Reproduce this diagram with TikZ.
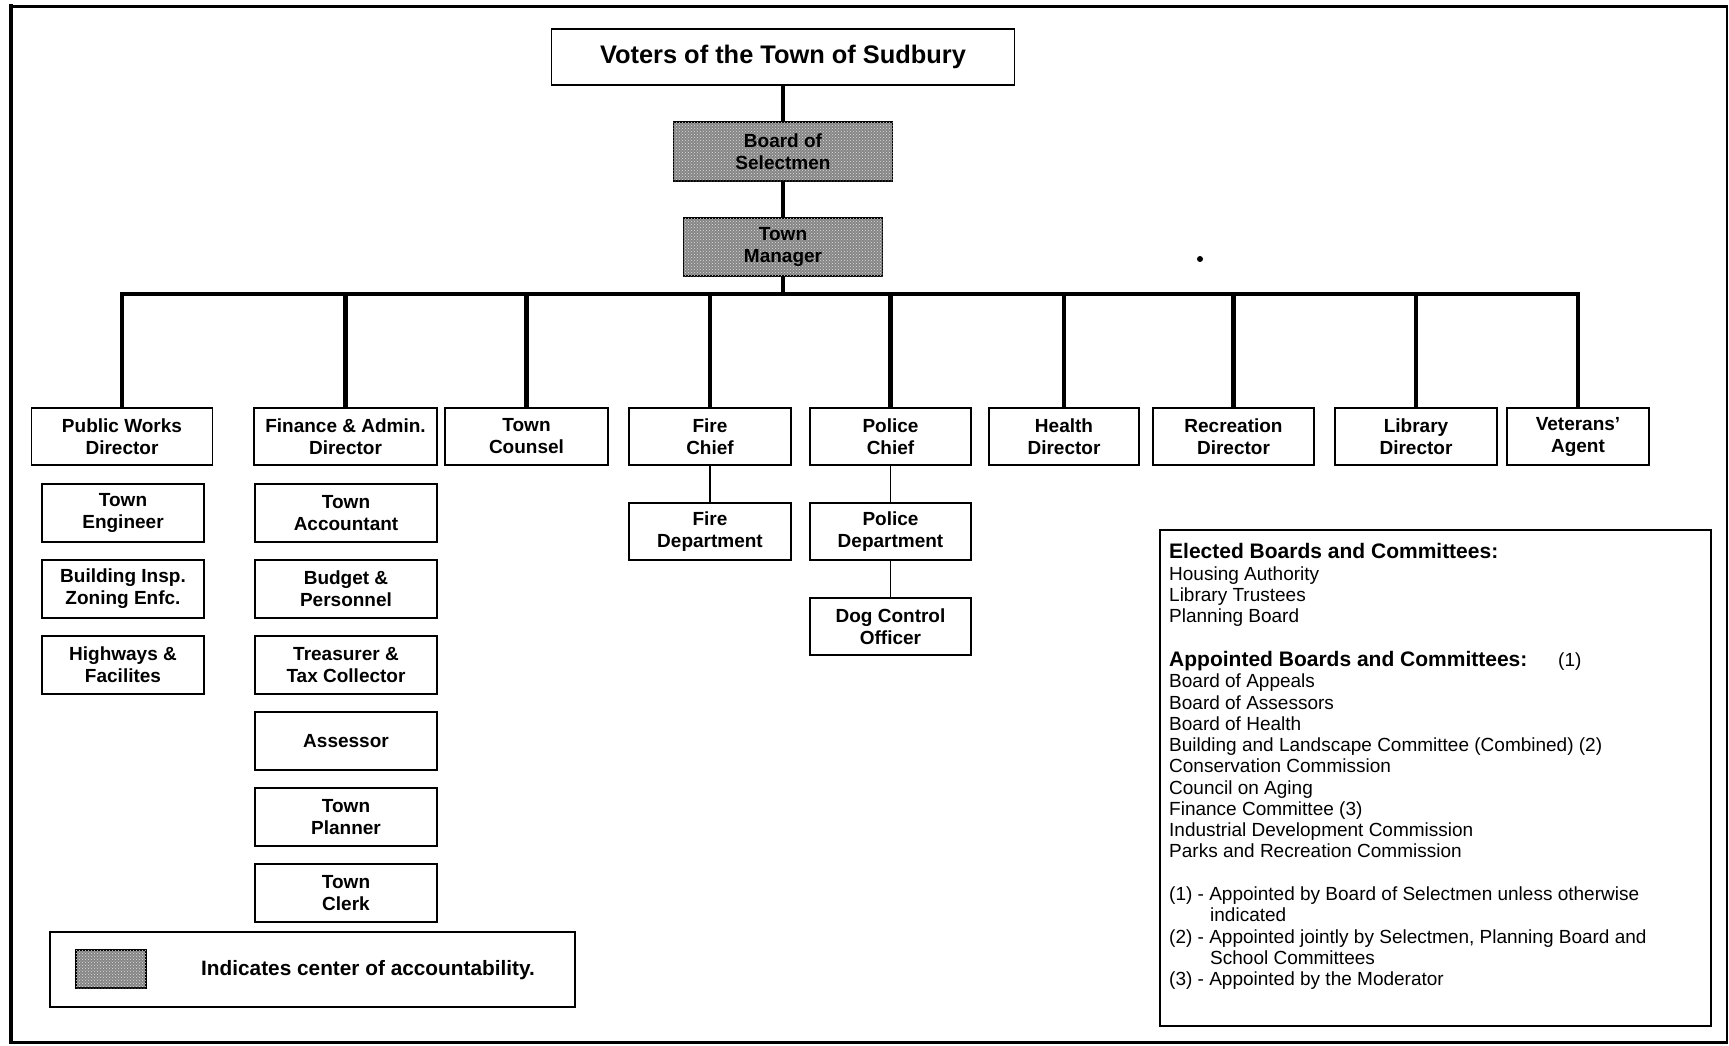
\documentclass[tikz,border=0pt]{standalone}
\usepackage{fontspec}
\setmainfont{Liberation Sans}
\usetikzlibrary{patterns}
\begin{document}
\tikzset{
  box/.style={draw, line width=1.8pt, fill=white, inner sep=0pt, outer sep=0pt, align=center,
    font=\fontsize{19}{22}\selectfont\bfseries, minimum height=57pt},
  shaded/.style={box, fill=black!48, postaction={pattern=crosshatch dots, pattern color=black!12}},
  mainline/.style={line width=4.5pt},
  subline/.style={line width=1.5pt},
  notetext/.style={anchor=base west, inner sep=0pt, font=\fontsize{19}{21}\selectfont},
  notehead/.style={anchor=base west, inner sep=0pt, font=\fontsize{21}{24}\selectfont\bfseries},
}
\begin{tikzpicture}[x=1pt,y=-1pt]
\useasboundingbox (0,0) rectangle (1729,1045);
\fill[white] (0,0) rectangle (1729,1045);
% outer frame
\draw[line width=4pt] (11,4) -- (11,1044);
\draw[line width=3pt] (9,6) -- (1728,6);
\draw[line width=1.2pt] (1727,6) -- (1727,1042);
\draw[line width=3pt] (9,1042) -- (1728,1042);

% top of the chart
\node[box, minimum width=463pt, minimum height=56pt, font=\fontsize{25.4}{28}\selectfont\bfseries] (voters) at (783,57) {Voters of the Town of Sudbury};
\node[shaded, minimum width=219pt, minimum height=59pt] (board) at (783,151.5) {Board of\\Selectmen};
\node[shaded, minimum width=199pt, minimum height=58pt] (manager) at (783,247) {Town\\Manager};

% department heads
\node[box, minimum width=181pt] (pw) at (122,436.5) {Public Works\\Director};
\node[box, minimum width=183pt] (fin) at (345.5,436.5) {Finance \& Admin.\\Director};
\node[box, minimum width=163pt] (counsel) at (526.5,436.5) {Town\\Counsel};
\node[box, minimum width=162pt] (fire) at (710,436.5) {Fire\\Chief};
\node[box, minimum width=161pt] (police) at (890.5,436.5) {Police\\Chief};
\node[box, minimum width=150pt] (health) at (1064,436.5) {Health\\Director};
\node[box, minimum width=161pt] (rec) at (1233.5,436.5) {Recreation\\Director};
\node[box, minimum width=162pt] (lib) at (1416,436.5) {Library\\Director};
\node[box, minimum width=142pt] (vet) at (1578,436.5) {Veterans'\\Agent};

% public works column
\node[box, minimum width=162pt, minimum height=58pt] (eng) at (123,513) {Town\\Engineer};
\node[box, minimum width=162pt, minimum height=58pt] (bldg) at (123,589) {Building Insp.\\Zoning Enfc.};
\node[box, minimum width=162pt, minimum height=58pt] (hwy) at (123,665) {Highways \&\\Facilites};

% finance column
\node[box, minimum width=182pt, minimum height=58pt] (acct) at (346,513) {Town\\Accountant};
\node[box, minimum width=182pt, minimum height=58pt] (budget) at (346,589) {Budget \&\\Personnel};
\node[box, minimum width=182pt, minimum height=58pt] (treas) at (346,665) {Treasurer \&\\Tax Collector};
\node[box, minimum width=182pt, minimum height=58pt] (assessor) at (346,741) {Assessor};
\node[box, minimum width=182pt, minimum height=58pt] (planner) at (346,817) {Town\\Planner};
\node[box, minimum width=182pt, minimum height=58pt] (clerk) at (346,893) {Town\\Clerk};

% fire and police
\node[box, minimum width=162pt] (firedept) at (710,531.5) {Fire\\Department};
\node[box, minimum width=161pt] (policedept) at (890.5,531.5) {Police\\Department};
\node[box, minimum width=161pt] (dog) at (890.5,626.5) {Dog Control\\Officer};

% connectors
\coordinate (bus) at (783,294);
\draw[mainline] (voters.south) -- (board.north);
\draw[mainline] (board.south) -- (manager.north);
\draw[mainline] (manager.south) -- (bus);
\draw[mainline] (pw.north) -- (pw.north |- bus) -- (vet.north |- bus) -- (vet.north);
\foreach \n in {fin,counsel,fire,police,health,rec,lib}
  \draw[mainline] (\n.north) -- (\n.north |- bus);
\draw[subline] (fire.south) -- (firedept.north);
\draw[subline] (police.south) -- (policedept.north);
\draw[subline] (policedept.south) -- (dog.north);

% legend
\node[draw, line width=1.8pt, inner sep=0pt, minimum width=525pt, minimum height=75pt] (legend) at (312.5,969.5) {};
\node[draw, line width=1.2pt, inner sep=0pt, minimum width=70pt, minimum height=38pt,
  fill=black!48, postaction={pattern=crosshatch dots, pattern color=black!12}] (swatch) at (111,969) {};
\node[anchor=west, inner sep=0pt, font=\fontsize{20.8}{24}\selectfont\bfseries] (legendtext) at (201,970) {Indicates center of accountability.};

% boards and committees
\node[draw, line width=1.5pt, inner sep=0pt, minimum width=551pt, minimum height=496pt] (notes) at (1435.5,778) {};
\node[notehead] (t1) at (1169,558) {Elected Boards and Committees:};
\node[notetext] (t2) at (1169,580) {Housing Authority};
\node[notetext] (t3) at (1169,601) {Library Trustees};
\node[notetext] (t4) at (1169,622) {Planning Board};
\node[notehead] (t5) at (1169,666) {Appointed Boards and Committees:};
\node[notetext] (t5b) at (1558,666) {(1)};
\node[notetext] (t6) at (1169,687.5) {Board of Appeals};
\node[notetext] (t7) at (1169,709) {Board of Assessors};
\node[notetext] (t8) at (1169,730) {Board of Health};
\node[notetext] (t9) at (1169,751.5) {Building and Landscape Committee (Combined) (2)};
\node[notetext] (t10) at (1169,772.5) {Conservation Commission};
\node[notetext] (t11) at (1169,794) {Council on Aging};
\node[notetext] (t12) at (1169,815) {Finance Committee (3)};
\node[notetext] (t13) at (1169,836) {Industrial Development Commission};
\node[notetext] (t14) at (1169,857) {Parks and Recreation Commission};
\node[notetext] (t15) at (1169,900) {(1) - Appointed by Board of Selectmen unless otherwise};
\node[notetext] (t16) at (1210,921.5) {indicated};
\node[notetext] (t17) at (1169,943) {(2) - Appointed jointly by Selectmen, Planning Board and};
\node[notetext] (t18) at (1210,964) {School Committees};
\node[notetext] (t19) at (1169,985) {(3) - Appointed by the Moderator};

% stray mark
\fill (1200,259) circle (3pt);
\end{tikzpicture}
\end{document}
